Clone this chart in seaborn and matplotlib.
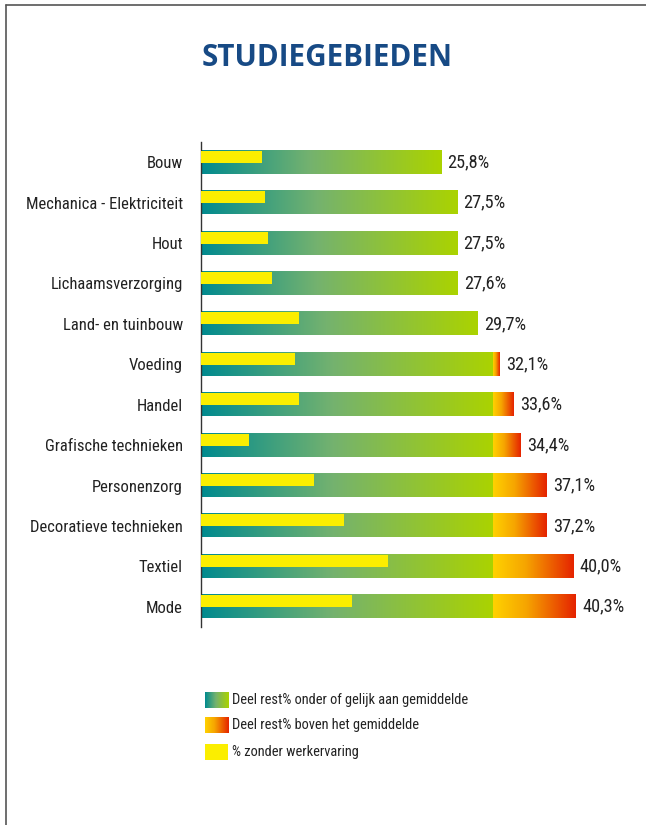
import numpy as np
import pandas as pd
import matplotlib
matplotlib.use("Agg")
import matplotlib.pyplot as plt
import seaborn as sns
from matplotlib.colors import LinearSegmentedColormap
from matplotlib.lines import Line2D

# Data
categories = ["Bouw", "Mechanica - Elektriciteit", "Hout", "Lichaamsverzorging",
              "Land- en tuinbouw", "Voeding", "Handel", "Grafische technieken",
              "Personenzorg", "Decoratieve technieken", "Textiel", "Mode"]
rest_pct = [25.8, 27.5, 27.5, 27.6, 29.7, 32.1, 33.6, 34.4, 37.1, 37.2, 40.0, 40.3]
zonder_werkervaring = [6.5, 6.9, 7.2, 7.6, 10.5, 10.1, 10.5, 5.2, 12.1, 15.4, 20.1, 16.2]
gemiddelde = 31.4
value_labels = ["25,8%", "27,5%", "27,5%", "27,6%", "29,7%", "32,1%", "33,6%",
                "34,4%", "37,1%", "37,2%", "40,0%", "40,3%"]
legend_labels = ["Deel rest% onder of gelijk aan gemiddelde",
                 "Deel rest% boven het gemiddelde",
                 "% zonder werkervaring"]

df = pd.DataFrame({"studiegebied": categories, "rest": rest_pct,
                   "zonder": zonder_werkervaring})

sns.set_style("white")
# narrow fonts first, whichever is installed gets used
plt.rcParams["font.family"] = ["Roboto Condensed", "Liberation Sans Narrow",
                               "Open Sans Condensed", "Lato", "DejaVu Sans"]
plt.rcParams["font.stretch"] = "condensed"
title_family = ["Open Sans", "Lato", "DejaVu Sans"]

green_cmap = LinearSegmentedColormap.from_list(
    "green", [(0, "#008a8f"), (0.45, "#74b26f"), (1, "#abd300")])
red_cmap = LinearSegmentedColormap.from_list(
    "red", [(0, "#ffd200"), (0.4, "#f6a500"), (1, "#e52300")])
yellow = "#fbee00"
grad = np.linspace(0, 1, 256).reshape(1, -1)

W, H = 646, 825
fig = plt.figure(figsize=(W / 100, H / 100), dpi=100)
renderer = fig.canvas.get_renderer()


def fit_size(text, target_px, weight="normal", family=None, stretch="condensed"):
    # font size that gives the text the width it has in the reference
    kw = {"family": family} if family else {}
    t = fig.text(0, 0, text, fontsize=10, fontweight=weight,
                 fontstretch=stretch, **kw)
    w = t.get_window_extent(renderer).width
    t.remove()
    return 10 * target_px / w


label_size = fit_size("Mechanica - Elektriciteit", 156)
value_size = fit_size("25,8%", 42)
title_size = fit_size("STUDIEGEBIEDEN", 250, "bold", title_family, "normal")
legend_size = fit_size(legend_labels[0], 235)

# page frame (top and left lines)
fig.add_artist(Line2D([6 / W, 6 / W], [0, 1 - 5 / H], color="#555555", lw=1.2))
fig.add_artist(Line2D([6 / W, 1], [1 - 5 / H, 1 - 5 / H], color="#555555", lw=1.2))

fig.text(327 / W, 1 - 58 / H, "STUDIEGEBIEDEN", ha="center", va="center",
         fontsize=title_size, fontweight="bold", fontstretch="normal",
         family=title_family, color="#174a85")

ax_left, ax_top, ax_bot = 201, 142, 627
ax = fig.add_axes([ax_left / W, 1 - ax_bot / H, 430 / W, (ax_bot - ax_top) / H])

bar_h = 0.57
sns.barplot(data=df, x="rest", y="studiegebied", orient="h", width=bar_h,
            color="white", ax=ax)
xmax = 430 / 9.31
ax.set_xlim(0, xmax)
ax.set_ylim(len(categories) - 0.5, -0.5)

for patch, total in zip(ax.patches, df["rest"]):
    y0 = patch.get_y()
    y1 = y0 + patch.get_height()
    patch.set_facecolor("none")
    patch.set_edgecolor("none")
    g_end = min(total, gemiddelde)
    ax.imshow(grad, cmap=green_cmap, extent=(0, g_end, y1, y0),
              aspect="auto", interpolation="bilinear", zorder=2)
    if total > gemiddelde:
        ax.imshow(grad, cmap=red_cmap, extent=(gemiddelde, total, y1, y0),
                  aspect="auto", interpolation="bilinear", zorder=2)

ax.bar_label(ax.containers[0], labels=value_labels, padding=4.5,
             fontsize=value_size, color="#222222")

n_before = len(ax.patches)
sns.barplot(data=df, x="zonder", y="studiegebied", orient="h", width=bar_h,
            color=yellow, saturation=1, ax=ax)
for patch in ax.patches[n_before:]:
    patch.set_height(patch.get_height() * 0.52)
    patch.set_zorder(3)
    patch.set_edgecolor("none")

ax.set_xlim(0, xmax)
ax.set_ylim(len(categories) - 0.5, -0.5)
ax.set_xlabel("")
ax.set_ylabel("")
ax.set_xticks([])
ax.set_yticks(range(len(categories)))
ax.set_yticklabels(categories, fontsize=label_size, color="#222222")
ax.set_yticks(np.arange(-0.5, len(categories), 1), minor=True)
ax.tick_params(axis="y", which="major", length=0, pad=13)
ax.tick_params(axis="y", which="minor", length=5, width=1, color="#333333",
               direction="out")
for side in ["top", "right", "bottom"]:
    ax.spines[side].set_visible(False)
ax.spines["left"].set_color("#333333")
ax.spines["left"].set_linewidth(1)
ax.set_facecolor("none")

# legend: gradient swatches
legend_y = [700, 725, 752]
swatches = [green_cmap, red_cmap, None]
for yc, cmap, label in zip(legend_y, swatches, legend_labels):
    sax = fig.add_axes([205 / W, 1 - (yc + 8) / H, 23 / W, 16 / H])
    if cmap is not None:
        sax.imshow(grad, cmap=cmap, aspect="auto", interpolation="bilinear")
    else:
        sax.set_facecolor(yellow)
    sax.set_xticks([])
    sax.set_yticks([])
    for s in sax.spines.values():
        s.set_visible(False)
    fig.text(232 / W, 1 - yc / H, label, ha="left", va="center",
             fontsize=legend_size, color="#222222")

fig.savefig("out.png", dpi=100)
